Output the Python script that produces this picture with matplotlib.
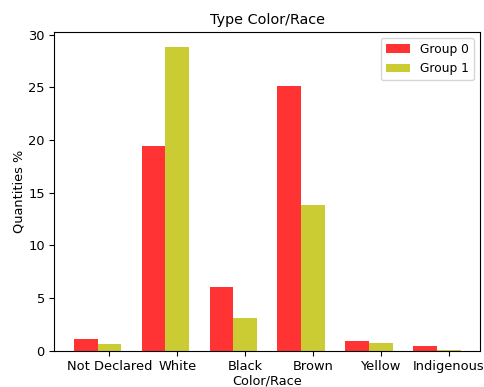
import numpy as np
import matplotlib
matplotlib.use("Agg")
import matplotlib.pyplot as plt

categories = ["Not Declared", "White", "Black", "Brown", "Yellow", "Indigenous"]
group0 = [1.05, 19.4, 6.0, 25.15, 0.95, 0.4]
group1 = [0.6, 28.8, 3.05, 13.85, 0.75, 0.07]

fig = plt.figure(figsize=(4.84, 3.87), dpi=100)
ax = fig.add_axes([0.1126, 0.0943, 0.879, 0.823])
index = np.arange(len(categories))
bar_width = 0.35

ax.bar(index, group0, bar_width, alpha=0.8, color="r", label="Group 0")
ax.bar(index + bar_width, group1, bar_width, alpha=0.8, color="y", label="Group 1")

ax.set_xlabel("Color/Race", fontsize=9.3, labelpad=0.8)
ax.set_ylabel("Quantities %", fontsize=9.3, labelpad=1.8)
ax.set_title("Type Color/Race", fontsize=10.4)
ax.set_xticks(index + bar_width)
ax.set_xticklabels(categories)
ax.tick_params(labelsize=9.4)
ax.legend(fontsize=8.8)

plt.savefig("out.png")
